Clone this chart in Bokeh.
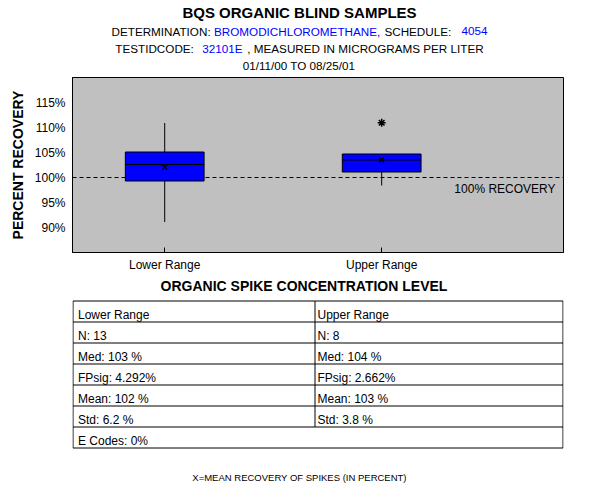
from bokeh.plotting import figure
from bokeh.layouts import column
from bokeh.models import Range1d, FixedTicker, PrintfTickFormatter, Span, Label, ColumnDataSource
from bokeh.core.properties import value
from bokeh.embed import file_html
from bokeh.resources import INLINE

FONT = "Liberation Sans"

# ---------------- data ----------------
categories = ["Lower Range", "Upper Range"]
positions = [1, 2]
q1 = [99.3, 101.1]
q3 = [105.1, 104.7]
medians = [102.6, 103.5]
means = [102.05, 103.55]
whisker_low = [91.1, 98.4]
whisker_high = [110.9, 104.7]
outlier_pos = [2]
outlier_val = [110.95]
y_ticks = [90, 95, 100, 105, 110, 115]
reference = 100

table_left = ["Lower Range", "N: 13", "Med: 103 %", "FPsig: 4.292%", "Mean: 102 %", "Std: 6.2 %"]
table_right = ["Upper Range", "N:  8", "Med: 104 %", "FPsig: 2.662%", "Mean: 103 %", "Std: 3.8 %"]
e_codes = "E Codes:  0%"

title = "BQS ORGANIC BLIND SAMPLES"
line2 = ["DETERMINATION:", "BROMODICHLOROMETHANE,", "SCHEDULE:", "4054"]
line3 = ["TESTIDCODE:", "32101E", ", MEASURED IN MICROGRAMS PER LITER"]
line4 = "01/11/00 TO 08/25/01"
xlab = "ORGANIC SPIKE CONCENTRATION LEVEL"
foot = "X=MEAN RECOVERY OF SPIKES (IN PERCENT)"

BLUE = "#0000FF"
FL, FR = 72, 563          # frame left / right in page pixels (shared by all panels)
BL, BR = FL, 600 - FR     # borders

# ---------------- header ----------------
HDR_H = 76
hdr = figure(width=600, height=HDR_H, x_range=Range1d(FL, FR), y_range=Range1d(HDR_H, 0),
             output_backend="svg", toolbar_location=None, x_axis_location=None,
             y_axis_location=None, min_border_left=BL, min_border_right=BR,
             min_border_top=0, min_border_bottom=0, outline_line_color=None)
hdr.grid.visible = False
hdr.text(x=[299], y=[11.5], text=[title], text_font=value(FONT), text_font_style="bold",
         text_font_size="15px", text_align="center", text_baseline="middle", text_color="black")
seg_src = ColumnDataSource(dict(
    x=[111, 213.5, 383.9, 461, 114.8, 201.7, 246.8],
    y=[30.8] * 4 + [48.4] * 3,
    text=line2 + line3,
    color=["black", BLUE, "black", BLUE, "black", BLUE, "black"],
))
hdr.text(x="x", y="y", text="text", text_color="color", source=seg_src, text_font=value(FONT),
         text_font_size="11.7px", text_align="left", text_baseline="middle")
hdr.text(x=[298.5], y=[64.7], text=[line4], text_font=value(FONT), text_font_size="11.7px",
         text_align="center", text_baseline="middle", text_color="black")

# ---------------- box plot ----------------
box_w = 0.363
p = figure(width=600, height=199, x_range=Range1d(0.575, 2.838), y_range=Range1d(85, 120),
           output_backend="svg", toolbar_location=None,
           min_border_left=BL, min_border_right=BR, min_border_top=1, min_border_bottom=23,
           background_fill_color="#C0C0C0", outline_line_color="black")
p.grid.visible = False

p.add_layout(Span(location=reference, dimension="width", line_color="black",
                  line_dash="4 3", line_width=1, level="underlay"))

p.segment(x0=positions, y0=whisker_low, x1=positions, y1=q1, line_color="black", line_width=1)
p.segment(x0=positions, y0=q3, x1=positions, y1=whisker_high, line_color="black", line_width=1)
p.vbar(x=positions, width=box_w, top=q3, bottom=q1, fill_color=BLUE, line_color="black", line_width=1)
p.segment(x0=[x - box_w / 2 for x in positions], y0=medians,
          x1=[x + box_w / 2 for x in positions], y1=medians, line_color="black", line_width=1)
p.scatter(x=positions, y=means, marker="x", size=7, line_color="black", line_width=1.2)
p.scatter(x=outlier_pos, y=outlier_val, marker="asterisk", size=8, line_color="black", line_width=1.5)

p.add_layout(Label(x=2.335, y=reference - 2.2, text="100% RECOVERY", text_font=FONT,
                   text_font_size="12px", text_baseline="middle", text_align="left",
                   text_color="black"))

p.xaxis.ticker = FixedTicker(ticks=positions)
p.xaxis.major_label_overrides = {pos: cat for pos, cat in zip(positions, categories)}
p.xaxis.major_tick_in = 5
p.xaxis.major_tick_out = 0
p.xaxis.minor_tick_line_color = None
p.xaxis.major_label_standoff = 5
p.xaxis.major_label_text_font = FONT
p.xaxis.major_label_text_font_size = "12px"
p.xaxis.major_label_text_color = "black"
p.xaxis.axis_line_color = "black"

p.yaxis.ticker = FixedTicker(ticks=y_ticks)
p.yaxis.formatter = PrintfTickFormatter(format="%d%%")
p.yaxis.major_tick_line_color = None
p.yaxis.major_tick_in = 0
p.yaxis.major_tick_out = 0
p.yaxis.minor_tick_line_color = None
p.yaxis.major_label_standoff = 7
p.yaxis.major_label_text_font = FONT
p.yaxis.major_label_text_font_size = "12px"
p.yaxis.major_label_text_color = "black"
p.yaxis.axis_line_color = "black"
p.yaxis.axis_label = "PERCENT RECOVERY"
p.yaxis.axis_label_text_font = FONT
p.yaxis.axis_label_text_font_style = "bold"
p.yaxis.axis_label_text_font_size = "14px"
p.yaxis.axis_label_text_color = "black"
p.yaxis.axis_label_standoff = 6

# ---------------- table ----------------
T_TOP = 275
t = figure(width=600, height=500 - T_TOP, x_range=Range1d(FL, FR), y_range=Range1d(500, T_TOP),
           output_backend="svg", toolbar_location=None, x_axis_location=None,
           y_axis_location=None, min_border_left=BL, min_border_right=BR,
           min_border_top=0, min_border_bottom=0, outline_line_color=None)
t.grid.visible = False

t.text(x=[303.5], y=[285.8], text=[xlab], text_font=value(FONT), text_font_style="bold",
       text_font_size="14px", text_align="center", text_baseline="middle", text_color="black")

left, right, mid = 72.5, 562.5, 314.5
top, rh = 300.5, 21
n_rows = len(table_left) + 1
hy = [top + rh * i for i in range(n_rows + 1)]
t.segment(x0=[left] * len(hy), y0=hy, x1=[right] * len(hy), y1=hy, line_color="black", line_width=1)
t.segment(x0=[left, right, mid], y0=[top, top, top],
          x1=[left, right, mid], y1=[hy[-1], hy[-1], hy[-2]], line_color="black", line_width=1)

row_y = [top + rh * i + rh / 2 + 3 for i in range(n_rows)]
t.text(x=[77.5] * len(table_left), y=row_y[:len(table_left)], text=table_left, text_font=value(FONT),
       text_font_size="12px", text_align="left", text_baseline="middle", text_color="black")
t.text(x=[317] * len(table_right), y=row_y[:len(table_right)], text=table_right, text_font=value(FONT),
       text_font_size="12px", text_align="left", text_baseline="middle", text_color="black")
t.text(x=[77.5], y=[row_y[-1]], text=[e_codes], text_font=value(FONT),
       text_font_size="12px", text_align="left", text_baseline="middle", text_color="black")

t.text(x=[299], y=[476.7], text=[foot], text_font=value(FONT), text_font_size="9.5px",
       text_align="center", text_baseline="middle", text_color="black")

layout = column(hdr, p, t, spacing=0)
open("out.html", "w").write(file_html(layout, INLINE))
